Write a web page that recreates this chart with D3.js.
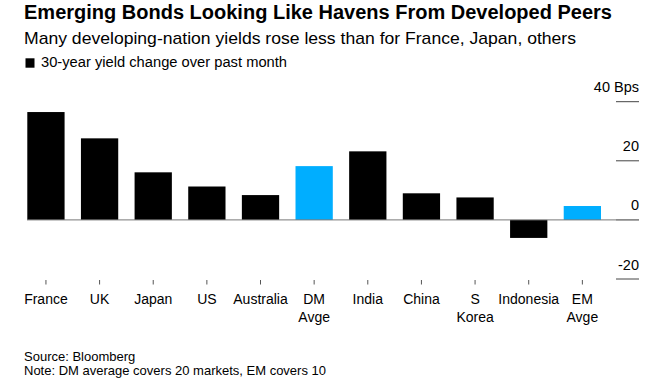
<!DOCTYPE html>
<html><head><meta charset="utf-8">
<script src="https://cdn.jsdelivr.net/npm/d3@7"></script>
<style>body{margin:0;background:#fff}svg{display:block}text{font-family:"Liberation Sans",Arial,sans-serif}</style>
</head><body>
<svg id="c" width="663" height="384"></svg>
<script>
const categories = ["France","UK","Japan","US","Australia","DM Avge","India","China","S Korea","Indonesia","EM Avge"];
const labelLines = [["France"],["UK"],["Japan"],["US"],["Australia"],["DM","Avge"],["India"],["China"],["S","Korea"],["Indonesia"],["EM","Avge"]];
const values = [36.5,27.6,16.1,11.3,8.4,18.2,23.2,9.0,7.6,-6.1,4.7];
const highlight = ["DM Avge","EM Avge"];
const yTicks = [-20,0,20,40];
const yTickLabels = ["-20","0","20","40 Bps"];

const svg = d3.select("#c");
const x = d3.scaleBand().domain(categories).range([27.3,601]).paddingInner(0.305).paddingOuter(0);
const y = d3.scaleLinear().domain([-20,40]).range([279,101.7]);

function fit(sel, w){ sel.attr("textLength", w).attr("lengthAdjust","spacingAndGlyphs"); return sel; }

// title block
fit(svg.append("text").attr("x",24).attr("y",19).attr("font-size",19.5).attr("font-weight","bold").attr("fill","#000")
  .text("Emerging Bonds Looking Like Havens From Developed Peers"), 588);
fit(svg.append("text").attr("x",24).attr("y",43.5).attr("font-size",17).attr("fill","#000")
  .text("Many developing-nation yields rose less than for France, Japan, others"), 552);
svg.append("rect").attr("x",25.5).attr("y",58.3).attr("width",9).attr("height",9.4).attr("fill","#000");
fit(svg.append("text").attr("x",41).attr("y",67).attr("font-size",14).attr("fill","#000")
  .text("30-year yield change over past month"), 246);

// right axis
const yAxis = svg.append("g");
yTicks.forEach((t,i)=>{
  yAxis.append("line").attr("x1",616).attr("x2",639).attr("y1",y(t)).attr("y2",y(t))
    .attr("stroke",t===0?"#777":"#444").attr("stroke-width",1);
  yAxis.append("text").attr("x",639).attr("y",y(t)-9.5).attr("text-anchor","end")
    .attr("font-size",14.5).attr("fill","#000").text(yTickLabels[i]);
});

// bars
svg.append("g").selectAll("rect").data(categories).join("rect")
  .attr("x",d=>x(d)).attr("width",x.bandwidth())
  .attr("y",(d,i)=>y(Math.max(0,values[i])))
  .attr("height",(d,i)=>Math.abs(y(values[i])-y(0)))
  .attr("fill",d=>highlight.includes(d)?"#00aeff":"#000");

// zero line
svg.append("line").attr("x1",27).attr("x2",639).attr("y1",y(0)).attr("y2",y(0))
  .attr("stroke","#777").attr("stroke-width",1);

// x ticks and labels
const xg = svg.append("g");
categories.forEach((c,i)=>{
  const cx = x(c)+x.bandwidth()/2;
  xg.append("line").attr("x1",cx).attr("x2",cx).attr("y1",280).attr("y2",284.5).attr("stroke","#555");
  const t = xg.append("text").attr("x",cx).attr("y",304).attr("text-anchor","middle").attr("font-size",14).attr("fill","#000");
  labelLines[i].forEach((l,j)=>t.append("tspan").attr("x",cx).attr("dy",j?17.7:0).text(l));
});

svg.append("text").attr("x",24).attr("y",361).attr("font-size",13).attr("fill","#000").text("Source: Bloomberg");
svg.append("text").attr("x",24).attr("y",374.5).attr("font-size",13).attr("fill","#000").text("Note: DM average covers 20 markets, EM covers 10");
</script>
</body></html>
